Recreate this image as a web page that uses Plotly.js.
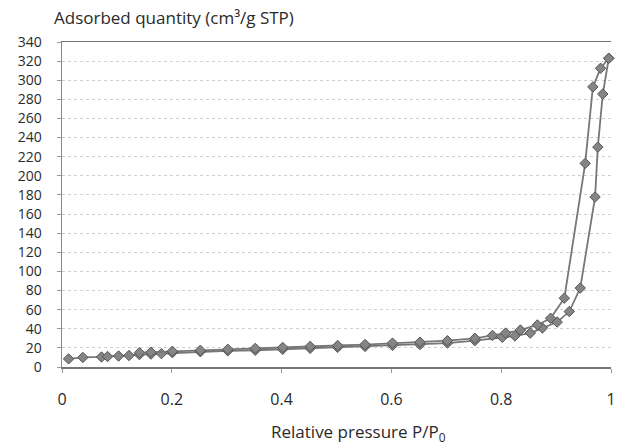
<!DOCTYPE html>
<html>
<head>
<meta charset="utf-8">
<script src="https://cdn.plot.ly/plotly-3.0.1.min.js"></script>
<style>html,body{margin:0;padding:0;background:#fff;}#chart{width:617px;height:444px;}</style>
</head>
<body>
<div id="chart"></div>
<script>
// Adsorption branch
const adsX = [0.012, 0.038, 0.072, 0.083, 0.103, 0.122, 0.141, 0.162, 0.181, 0.201, 0.252, 0.302, 0.352, 0.402, 0.452, 0.502, 0.552, 0.602, 0.652, 0.702, 0.752, 0.802, 0.825, 0.853, 0.875, 0.902, 0.924, 0.944, 0.971, 0.976, 0.985, 0.996];
const adsY = [8.5, 10, 10.5, 11, 11.5, 12, 13, 13.5, 14, 15, 16, 17, 17.5, 18.5, 19.5, 20.5, 21.5, 22.5, 23.5, 25, 27.5, 31, 32.5, 35.5, 40.8, 47, 58, 82.6, 177.8, 230, 285.6, 323];
// Desorption branch
const desX = [0.996, 0.981, 0.967, 0.953, 0.915, 0.89, 0.866, 0.835, 0.808, 0.784, 0.752, 0.702, 0.652, 0.602, 0.552, 0.502, 0.452, 0.402, 0.352, 0.302, 0.252, 0.201, 0.162, 0.141];
const desY = [323, 312.5, 293, 213, 72, 51, 44, 38.7, 35.5, 33, 30, 27.5, 26, 25, 23.5, 22.5, 21.5, 20.5, 19.5, 18.5, 17.5, 16.5, 15.5, 15];

const yTicks = [0,20,40,60,80,100,120,140,160,180,200,220,240,260,280,300,320,340];
const xTicks = [0, 0.2, 0.4, 0.6, 0.8, 1];
const xTickText = ['0', '0.2', '0.4', '0.6', '0.8', '1'];

const yTitle = 'Adsorbed quantity (cm³/g STP)';
const xTitle = 'Relative pressure P/P<sub>0</sub>';

const FONT = 'Open Sans, Liberation Sans, sans-serif';
const markerStyle = {symbol: 'diamond', size: 8, color: '#858585', line: {color: '#555', width: 1}};
const lineStyle = {color: '#777', width: 1.8};

const traces = [
  {x: adsX, y: adsY, type: 'scatter', mode: 'lines+markers', name: 'Adsorption', marker: markerStyle, line: lineStyle, cliponaxis: false},
  {x: desX, y: desY, type: 'scatter', mode: 'lines+markers', name: 'Desorption', marker: markerStyle, line: lineStyle, cliponaxis: false}
];

const layout = {
  width: 617, height: 444,
  margin: {l: 62, r: 6, t: 42, b: 77},
  paper_bgcolor: '#fff', plot_bgcolor: '#fff',
  showlegend: false,
  font: {family: FONT, size: 16, color: '#2a2a2a'},
  xaxis: {
    range: [0, 1], tickvals: xTicks, ticktext: xTickText,
    showgrid: false, zeroline: false,
    showline: true, linecolor: '#777', linewidth: 1.5, mirror: true,
    ticks: 'outside', ticklen: 4, tickcolor: '#999',
    ticklabelstandoff: 13, ticklabeloverflow: 'allow',
    tickfont: {family: FONT, size: 16, color: '#2a2a2a'}
  },
  yaxis: {
    range: [0, 340], tickvals: yTicks,
    showgrid: true, gridcolor: '#cfcfcf', griddash: 'dot', gridwidth: 1,
    zeroline: false,
    showline: true, linecolor: '#888', linewidth: 1.5,
    ticks: 'outside', ticklen: 4, tickcolor: '#999',
    ticklabelstandoff: 12,
    tickfont: {family: FONT, size: 14, color: '#2a2a2a'}
  },
  annotations: [
    {text: yTitle, xref: 'paper', yref: 'paper', x: -0.018, y: 1.0, yshift: 25, xanchor: 'left', yanchor: 'middle', showarrow: false, font: {family: FONT, size: 17, color: '#2a2a2a'}},
    {text: xTitle, xref: 'paper', yref: 'paper', x: 0.54, y: 0, yshift: -65, xanchor: 'center', yanchor: 'middle', showarrow: false, font: {family: FONT, size: 17, color: '#2a2a2a'}}
  ]
};

Plotly.newPlot('chart', traces, layout, {staticPlot: true, displayModeBar: false});
</script>
</body>
</html>
